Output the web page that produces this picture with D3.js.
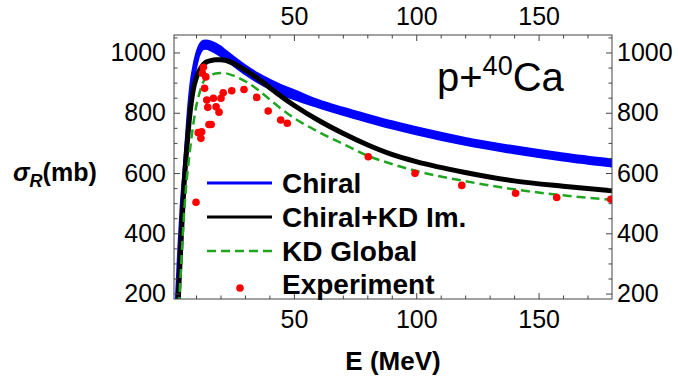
<!DOCTYPE html>
<html>
<head>
<meta charset="utf-8">
<script src="https://cdn.jsdelivr.net/npm/d3@7"></script>
<style>
  body { margin: 0; background: #fff; }
  svg { display: block; font-family: "Liberation Sans", Arial, sans-serif; }
</style>
</head>
<body>
<div id="chart"></div>
<script>
// Reaction cross section p+40Ca

// energy grid shared by the three model curves (MeV)
const energies = [2, 2.5, 3, 4, 5, 6, 7, 8, 9, 10, 11, 12, 13, 14, 16, 18, 20, 22, 25, 30, 35, 40, 45, 50, 60, 70, 80, 90, 100, 120, 140, 160, 180];

// Chiral band (lower / upper edge, mb)
const chiralLow  = [145, 230, 315, 460, 560, 670, 780, 862, 915, 955, 987, 1005, 1013, 1014, 1009, 1000, 990, 978, 960, 930, 904, 882, 863, 847, 820, 795, 772, 750, 730, 695, 667, 643, 623];
const chiralHigh = [185, 270, 355, 500, 600, 710, 820, 900, 950, 988, 1014, 1030, 1037, 1038, 1035, 1028, 1018, 1005, 986, 956, 930, 908, 889, 873, 840, 815, 792, 770, 750, 715, 687, 663, 643];

// Chiral + KD imaginary part
const chiralKd = [60, 130, 225, 390, 545, 660, 755, 830, 882, 912, 934, 949, 960, 967, 973, 976, 976, 974, 965, 942, 915, 884, 853, 825, 775, 732, 694, 662, 638, 602, 574, 556, 541];

// KD global optical potential
const kdGlobal = [20, 90, 160, 305, 450, 560, 638, 708, 768, 818, 853, 882, 903, 915, 925, 930, 932, 931, 924, 905, 878, 845, 812, 783, 737, 697, 658, 630, 607, 573, 546, 526, 511];

// Experiment
const expE     = [10.0, 10.9, 12.0, 12.3, 12.6, 13.0, 13.5, 14.0, 14.4, 14.8, 15.3, 16.2, 17.1, 18.2, 19.4, 20.2, 21.1, 24.6, 29.6, 34.8, 39.5, 44.6, 47.3, 80.4, 99.5, 118.6, 140.6, 157.4, 179.5];
const expSigma = [503, 734, 715, 737, 931, 951, 881, 919, 842, 818, 761, 761, 848, 820, 802, 848, 866, 873, 877, 851, 806, 776, 765, 654, 599, 559, 533, 519, 513];

// ticks
const xMajor = [50, 100, 150];
const xMinor = [10, 20, 30, 40, 60, 70, 80, 90, 110, 120, 130, 140, 160, 170];
const yMajor = [200, 400, 600, 800, 1000];
const yMinor = [250, 300, 350, 450, 500, 550, 650, 700, 750, 850, 900, 950, 1050];

const legendItems = ["Chiral", "Chiral+KD Im.", "KD Global", "Experiment"];

const width = 678, height = 379;
const box = { left: 174, right: 612, top: 35, bottom: 299 };

const svg = d3.select("#chart").append("svg")
    .attr("width", width)
    .attr("height", height);

const x = d3.scaleLinear().domain([1, 180]).range([box.left, box.right]);
const y = d3.scaleLinear().domain([182, 1058]).range([box.bottom, box.top]);

svg.append("clipPath").attr("id", "plot-clip")
  .append("rect")
    .attr("x", box.left).attr("y", box.top)
    .attr("width", box.right - box.left).attr("height", box.bottom - box.top);

const plot = svg.append("g").attr("clip-path", "url(#plot-clip)");

// chiral band
const band = d3.area()
    .x((d, i) => x(energies[i]))
    .y0((d, i) => y(chiralLow[i]))
    .y1((d, i) => y(chiralHigh[i]))
    .curve(d3.curveMonotoneX);

plot.append("path")
    .datum(energies)
    .attr("d", band)
    .attr("fill", "#0000ff")
    .attr("stroke", "#0000ff")
    .attr("stroke-width", 3);

const line = vals => d3.line()
    .x((d, i) => x(energies[i]))
    .y((d, i) => y(vals[i]))
    .curve(d3.curveMonotoneX)(energies);

plot.append("path")
    .attr("d", line(chiralKd))
    .attr("fill", "none")
    .attr("stroke", "#000")
    .attr("stroke-width", 5);

plot.append("path")
    .attr("d", line(kdGlobal))
    .attr("fill", "none")
    .attr("stroke", "#1fa51f")
    .attr("stroke-width", 2.5)
    .attr("stroke-dasharray", "9,5");

plot.selectAll("circle.exp")
  .data(expE)
  .enter().append("circle")
    .attr("class", "exp")
    .attr("cx", d => x(d))
    .attr("cy", (d, i) => y(expSigma[i]))
    .attr("r", 3.8)
    .attr("fill", "#ff0000");

// frame + ticks (inward, on all four sides)
const frameColor = "#444";
const fmt = d3.format("d");
function styleAxis(g) {
    g.select(".domain").remove();
    g.selectAll(".tick line").attr("stroke", frameColor).attr("stroke-width", 1);
    g.selectAll(".tick text")
        .attr("fill", "#000")
        .style("font-size", "25px")
        .style("font-family", "'Liberation Sans', Arial, sans-serif");
}

svg.append("g").attr("transform", `translate(0,${box.bottom})`)
    .call(d3.axisBottom(x).tickValues(xMajor).tickFormat(fmt).tickSizeInner(-6).tickSizeOuter(0).tickPadding(11))
    .call(styleAxis);
svg.append("g").attr("transform", `translate(0,${box.bottom})`)
    .call(d3.axisBottom(x).tickValues(xMinor).tickSizeInner(-3.5).tickSizeOuter(0).tickFormat(""))
    .call(styleAxis);
svg.append("g").attr("transform", `translate(0,${box.top})`)
    .call(d3.axisTop(x).tickValues(xMajor).tickFormat(fmt).tickSizeInner(-6).tickSizeOuter(0).tickPadding(10))
    .call(styleAxis);
svg.append("g").attr("transform", `translate(0,${box.top})`)
    .call(d3.axisTop(x).tickValues(xMinor).tickSizeInner(-3.5).tickSizeOuter(0).tickFormat(""))
    .call(styleAxis);

svg.append("g").attr("transform", `translate(${box.left},0)`)
    .call(d3.axisLeft(y).tickValues(yMajor).tickFormat(fmt).tickSizeInner(-6).tickSizeOuter(0).tickPadding(8))
    .call(styleAxis);
svg.append("g").attr("transform", `translate(${box.left},0)`)
    .call(d3.axisLeft(y).tickValues(yMinor).tickSizeInner(-3.5).tickSizeOuter(0).tickFormat(""))
    .call(styleAxis);
svg.append("g").attr("transform", `translate(${box.right},0)`)
    .call(d3.axisRight(y).tickValues(yMajor).tickFormat(fmt).tickSizeInner(-6).tickSizeOuter(0).tickPadding(5))
    .call(styleAxis);
svg.append("g").attr("transform", `translate(${box.right},0)`)
    .call(d3.axisRight(y).tickValues(yMinor).tickSizeInner(-3.5).tickSizeOuter(0).tickFormat(""))
    .call(styleAxis);

svg.append("rect")
    .attr("x", box.left).attr("y", box.top)
    .attr("width", box.right - box.left).attr("height", box.bottom - box.top)
    .attr("fill", "none")
    .attr("stroke", frameColor)
    .attr("stroke-width", 1);

// axis titles
svg.append("text")
    .attr("x", (box.left + box.right) / 2).attr("y", 370)
    .attr("text-anchor", "middle")
    .style("font-size", "26px").style("font-weight", "bold")
    .text("E (MeV)");

const yTitle = svg.append("text")
    .attr("x", 13).attr("y", 181)
    .style("font-size", "25px").style("font-weight", "bold");
yTitle.append("tspan").style("font-style", "italic").text("σ");
yTitle.append("tspan").style("font-style", "italic").style("font-size", "18px").attr("dy", 6).text("R");
yTitle.append("tspan").attr("dy", -6).text("(mb)");

// reaction label
const reac = svg.append("text")
    .attr("x", 437).attr("y", 91)
    .style("font-size", "40px");
reac.append("tspan").text("p+");
reac.append("tspan").style("font-size", "27px").attr("dy", -16).text("40");
reac.append("tspan").attr("dy", 16).text("Ca");

// legend
const legend = svg.append("g");
const rowY = [183, 217, 251, 284];
legendItems.forEach((name, i) => {
    const row = legend.append("g");
    if (i === 0) {
        row.append("line").attr("x1", 207).attr("x2", 272).attr("y1", rowY[i]).attr("y2", rowY[i])
            .attr("stroke", "#0000ff").attr("stroke-width", 3);
    } else if (i === 1) {
        row.append("line").attr("x1", 207).attr("x2", 272).attr("y1", rowY[i]).attr("y2", rowY[i])
            .attr("stroke", "#000").attr("stroke-width", 3);
    } else if (i === 2) {
        row.append("line").attr("x1", 207).attr("x2", 272).attr("y1", rowY[i]).attr("y2", rowY[i])
            .attr("stroke", "#1fa51f").attr("stroke-width", 2.5).attr("stroke-dasharray", "9,5");
    } else {
        row.append("circle").attr("cx", 240).attr("cy", 288).attr("r", 3.8).attr("fill", "#ff0000");
    }
    row.append("text")
        .attr("x", 282).attr("y", rowY[i] + 10)
        .style("font-size", "28px").style("font-weight", "bold")
        .text(name);
});
</script>
</body>
</html>
